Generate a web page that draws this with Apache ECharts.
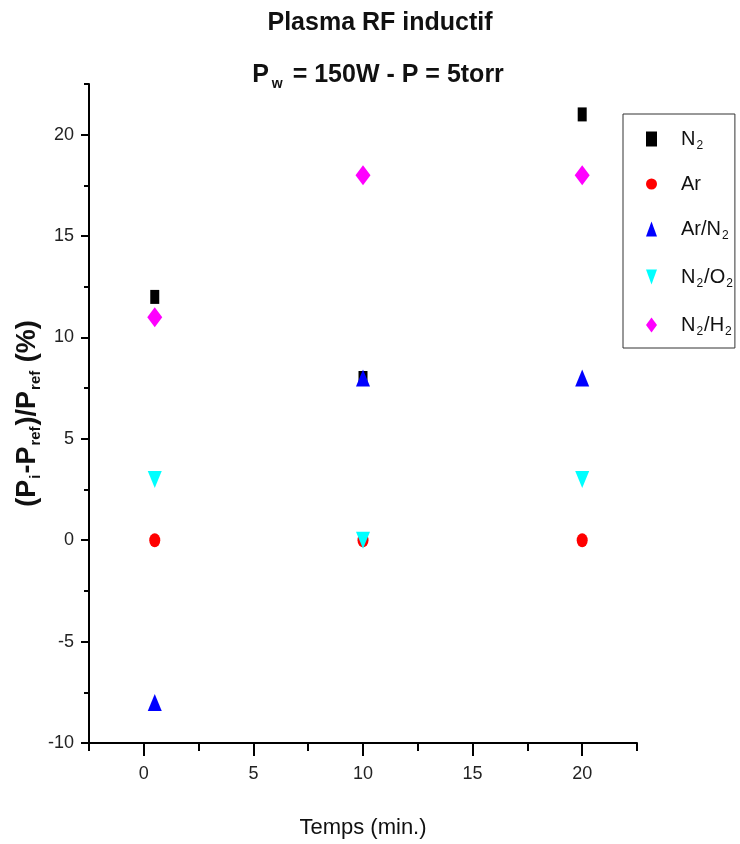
<!DOCTYPE html>
<html>
<head>
<meta charset="utf-8">
<script src="https://cdn.jsdelivr.net/npm/echarts@6/dist/echarts.min.js"></script>
<style>
  html, body { margin: 0; padding: 0; background: #fff; }
  #chart { width: 740px; height: 844px; }
</style>
</head>
<body>
<div id="chart"></div>
<script>
// 数据
var temps = [0.5, 10, 20]
var seriesNames = ['N2', 'Ar', 'Ar/N2', 'N2/O2', 'N2/H2']
var n2 = [12, 8, 21]
var ar = [0, 0, 0]
var arN2 = [-8, 8, 8]
var n2O2 = [3, 0, 3]
var n2H2 = [11, 18, 18]
var xTicks = [0, 5, 10, 15, 20]
var xMinorTicks = [-2.5, 2.5, 7.5, 12.5, 17.5, 22.5]
var yTicks = [-10, -5, 0, 5, 10, 15, 20]
var yMinorTicks = [-7.5, -2.5, 2.5, 7.5, 12.5, 17.5, 22.5]

var font = '"Liberation Sans", Arial, sans-serif'
var downTriangle = 'path://M0,0 L10,0 L5,12 Z' // 倒三角图例图标

// 图例文字（带下标）
var legendLabels = {
  'N2': '{sp|}{t|N}{s|2}',
  'Ar': '{sp|}{t|Ar}',
  'Ar/N2': '{sp|}{t|Ar/N}{s|2}',
  'N2/O2': '{sp|}{t|N}{s|2}{t|/O}{s|2}',
  'N2/H2': '{sp|}{t|N}{s|2}{t|/H}{s|2}'
}

function pairs(vals) {
  return temps.map(function (t, i) { return [t, vals[i]] })
}

var xRange = { min: -2.5, max: 22.5 }
var yRange = { min: -10, max: 22.5 }

var chart = echarts.init(document.getElementById('chart'))
var option = {
  animation: false,
  backgroundColor: '#fff',
  textStyle: { fontFamily: font },
  title: [{
    text: 'Plasma RF inductif',
    left: 375,
    top: 6,
    textAlign: 'center',
    textStyle: { fontFamily: font, fontSize: 25, fontWeight: 'bold', color: '#111' }
  }, {
    text: '{a|P}{s|w}{a| = 150W - P = 5torr}',
    left: 373,
    top: 55,
    textAlign: 'center',
    textStyle: {
      fontFamily: font,
      rich: {
        a: { fontFamily: font, fontSize: 25, fontWeight: 'bold', color: '#111', lineHeight: 30 },
        s: { fontFamily: font, fontSize: 14, fontWeight: 'bold', color: '#111', padding: [18, 3, 0, 3], lineHeight: 30 }
      }
    }
  }],
  grid: { left: 89, right: 103, top: 84, bottom: 100 },
  legend: {
    orient: 'vertical',
    left: 623,
    top: 114,
    data: seriesNames.map(function (n) {
      return n === 'N2/O2' ? { name: n, icon: downTriangle } : { name: n }
    }),
    itemGap: 22,
    itemWidth: 11,
    itemHeight: 15,
    symbolKeepAspect: false,
    borderColor: '#333',
    borderWidth: 1,
    borderRadius: 0,
    padding: [12, 1, 10, 23],
    formatter: function (name) { return legendLabels[name] },
    textStyle: {
      rich: {
        sp: { width: 19 },
        t: { fontFamily: font, fontSize: 20, color: '#111', lineHeight: 24 },
        s: { fontFamily: font, fontSize: 12, color: '#111', padding: [14, 1, 0, 1], lineHeight: 24 }
      }
    }
  },
  xAxis: [{
    type: 'value',
    min: xRange.min,
    max: xRange.max,
    name: 'Temps (min.)',
    nameLocation: 'middle',
    nameGap: 74,
    nameTextStyle: { fontFamily: font, fontSize: 22, color: '#111' },
    splitLine: { show: false },
    axisLine: { onZero: false, lineStyle: { color: '#000', width: 2 } },
    axisTick: { length: 13, lineStyle: { color: '#000', width: 2 }, customValues: xTicks },
    axisLabel: {
      margin: 22,
      fontSize: 18,
      color: '#222',
      customValues: xTicks,
      formatter: function (v) { return String(v) }
    }
  }, {
    // 次刻度
    type: 'value',
    position: 'bottom',
    min: xRange.min,
    max: xRange.max,
    splitLine: { show: false },
    axisLine: { show: false, onZero: false },
    axisTick: { length: 8, lineStyle: { color: '#000', width: 2 }, customValues: xMinorTicks },
    axisLabel: { show: false }
  }],
  yAxis: [{
    type: 'value',
    min: yRange.min,
    max: yRange.max,
    name: '{b|(P}{s|i}{b|-P}{s|ref}{b|)/P}{s|ref}{b| (%)}',
    nameLocation: 'middle',
    nameRotate: 90,
    nameGap: 45,
    nameMoveOverlap: false,
    nameTextStyle: {
      rich: {
        b: { fontFamily: font, fontSize: 27, fontWeight: 'bold', color: '#111', lineHeight: 32 },
        s: { fontFamily: font, fontSize: 15, fontWeight: 'bold', color: '#111', padding: [16, 1, 0, 1], lineHeight: 32 }
      }
    },
    splitLine: { show: false },
    axisLine: { onZero: false, lineStyle: { color: '#000', width: 2 } },
    axisTick: { length: 8, lineStyle: { color: '#000', width: 2 }, customValues: yTicks },
    axisLabel: {
      margin: 15,
      fontSize: 18,
      color: '#222',
      customValues: yTicks,
      formatter: function (v) { return String(v) }
    }
  }, {
    // 次刻度
    type: 'value',
    position: 'left',
    min: yRange.min,
    max: yRange.max,
    splitLine: { show: false },
    axisLine: { show: false, onZero: false },
    axisTick: { length: 5, lineStyle: { color: '#000', width: 2 }, customValues: yMinorTicks },
    axisLabel: { show: false }
  }],
  series: [{
    name: 'N2', type: 'scatter', symbol: 'rect', symbolSize: [9, 14],
    itemStyle: { color: '#000', opacity: 1 }, data: pairs(n2)
  }, {
    name: 'Ar', type: 'scatter', symbol: 'circle', symbolSize: [11, 14],
    itemStyle: { color: '#ff0000', opacity: 1 }, data: pairs(ar)
  }, {
    name: 'Ar/N2', type: 'scatter', symbol: 'triangle', symbolSize: [14, 17],
    itemStyle: { color: '#0000ff', opacity: 1 }, data: pairs(arN2)
  }, {
    name: 'N2/O2', type: 'scatter', symbol: 'triangle', symbolRotate: 180, symbolSize: [14, 17],
    itemStyle: { color: '#00ffff', opacity: 1 }, data: pairs(n2O2)
  }, {
    name: 'N2/H2', type: 'scatter', symbol: 'diamond', symbolSize: [15, 20],
    itemStyle: { color: '#ff00ff', opacity: 1 }, data: pairs(n2H2)
  }]
}
chart.setOption(option)
</script>
</body>
</html>
